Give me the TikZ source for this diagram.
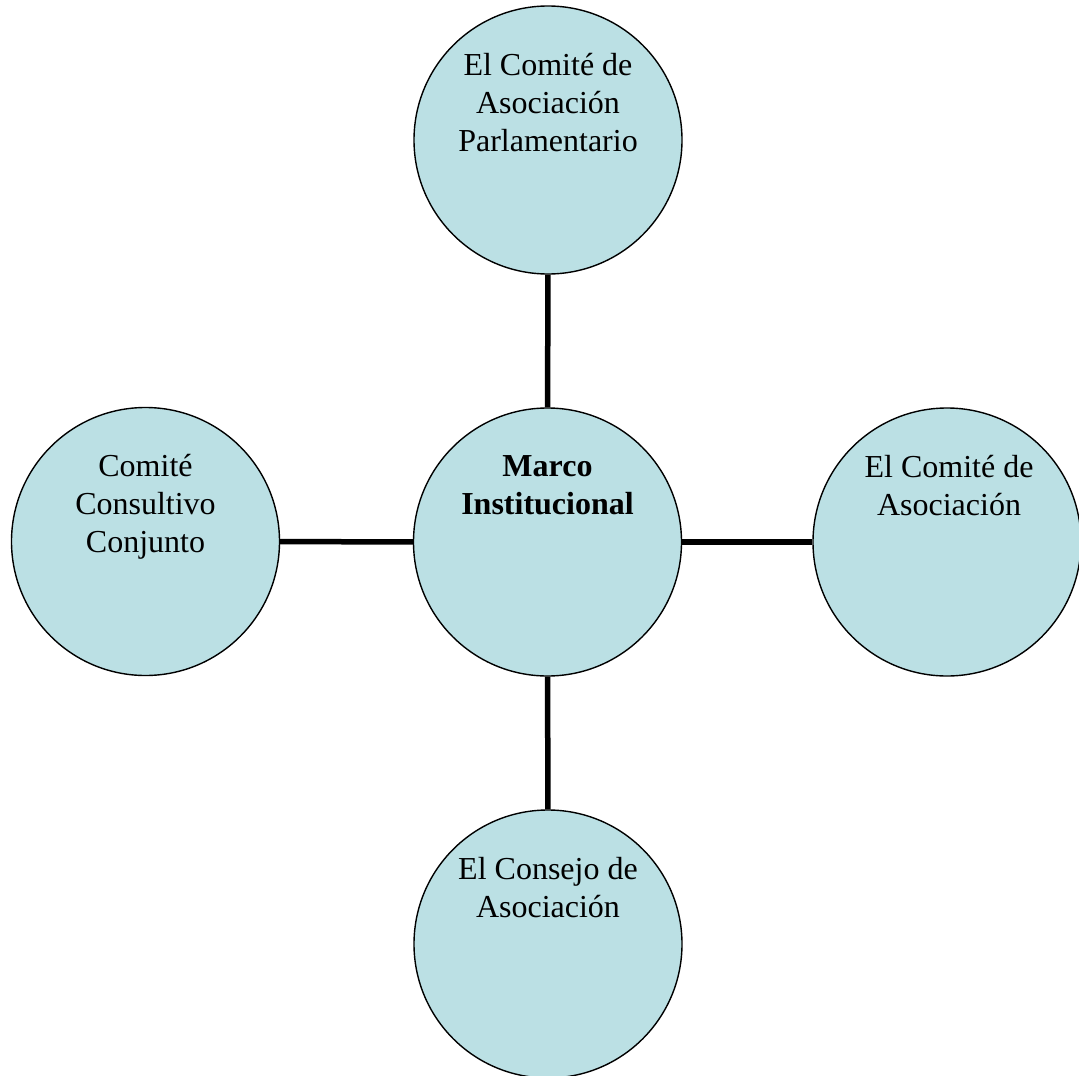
\documentclass[tikz,border=0pt]{standalone}
\usepackage{fontspec}
\setmainfont{Liberation Serif}
\definecolor{bubble}{RGB}{187,224,228}
\tikzset{
  bubble/.style={circle, draw=black, line width=1.4pt, fill=bubble, minimum size=268pt, inner sep=0pt},
  label/.style={anchor=north, align=center, inner sep=0pt, font=\fontsize{32}{38}\selectfont},
  link/.style={line width=5.5pt, draw=black}
}
\begin{document}
\begin{tikzpicture}[x=1pt,y=-1pt]
\useasboundingbox (0,0) rectangle (1079,1076);
\node[bubble] (mid) at (547.5,542) {};
\node[bubble] (top) at (548,140) {};
\node[bubble] (lft) at (145.5,541.5) {};
\node[bubble] (rgt) at (947,542) {};
\node[bubble] (bot) at (548,944) {};
\draw[link] (top) -- (mid);
\draw[link] (mid) -- (bot);
\draw[link] (lft) -- (mid);
\draw[link] (mid) -- (rgt);
\node[label, font=\fontsize{32}{38}\selectfont\bfseries] (tmid) at (547.5,455) {Marco\\Institucional};
\node[label] (ttop) at (548,53) {El Comité de\\Asociación\\Parlamentario};
\node[label] (tlft) at (145.5,454.5) {Comité\\Consultivo\\Conjunto};
\node[label] (trgt) at (949,455) {El Comité de\\Asociación};
\node[label] (tbot) at (548,857) {El Consejo de\\Asociación};
\end{tikzpicture}
\end{document}
